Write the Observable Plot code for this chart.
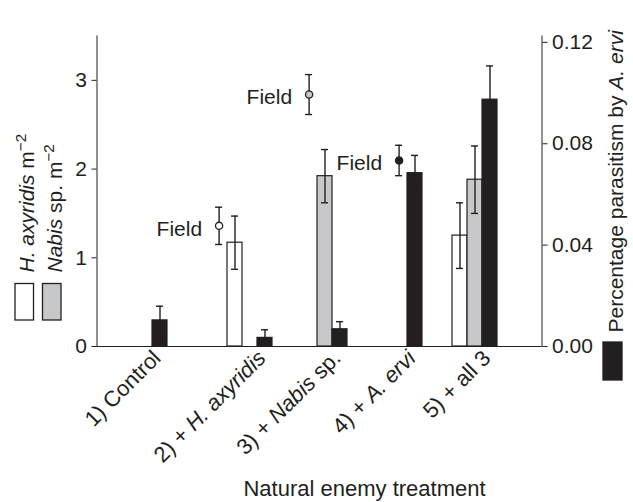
<!DOCTYPE html>
<html><head><meta charset="utf-8">
<script src="https://cdn.jsdelivr.net/npm/d3@7"></script>
<script src="https://cdn.jsdelivr.net/npm/@observablehq/plot@0.6"></script>
<style>body{margin:0;background:#fff} svg{display:block}</style>
</head><body><div id="chart"></div>
<script>
// ---------- data ----------
const treatments = ["1) Control", "2) + H. axyridis", "3) + Nabis sp.", "4) + A. ervi", "5) + all 3"];
const treatmentItalic = ["", "H. axyridis", "Nabis", "A. ervi", ""];
// H. axyridis m^-2 (white bars): mean, SE
const hMean = [null, 1.17, null, null, 1.25];
const hSE   = [null, 0.30, null, null, 0.37];
// Nabis sp. m^-2 (grey bars)
const nMean = [null, null, 1.92, null, 1.88];
const nSE   = [null, null, 0.30, null, 0.38];
// Percentage parasitism by A. ervi (black bars, right axis)
const pMean = [0.0103, 0.0034, 0.0068, 0.0684, 0.0974];
const pSE   = [0.0056, 0.0032, 0.0030, 0.0070, 0.0133];
// Field observations
const fieldTreatment = ["2) + H. axyridis", "3) + Nabis sp.", "4) + A. ervi"];
const fieldSeries = ["H", "N", "P"];
const fieldMean = [1.36, 2.84, 0.0734];
const fieldSE   = [0.21, 0.225, 0.006];
const fieldLabel = "Field";
// axes
const leftTicks = [0, 1, 2, 3];
const rightTicks = [0, 0.04, 0.08, 0.12];
const seriesKeys = ["H", "N", "P"];
const leftLabels = ["H. axyridis m\u22122", "Nabis sp. m\u22122"];
const leftLabelItalic = ["H. axyridis", "Nabis"];
const rightLabel = "Percentage parasitism by A. ervi";
const rightLabelItalic = "A. ervi";
const xTitle = "Natural enemy treatment";

// ---------- layout helpers ----------
const INK = "#231f20";
const GREY = "#c7c8ca";
const k = 3.428 / 0.12;           // right-axis units -> left-axis units
const slotW = 15.9;

// slots: three bar positions per treatment, with spacing slots between groups
const slots = [];
treatments.forEach((t, i) => {
  const gap = i === 0 ? 0 : (i === 1 ? 4 : 2);
  for (let j = 0; j < gap; j++) slots.push(`gap${i}-${j}`);
  for (const s of seriesKeys) slots.push(`${t}|${s}`);
});

const rows = [];
treatments.forEach((t, i) => {
  if (hMean[i] != null) rows.push({slot: `${t}|H`, series: "H", value: hMean[i], se: hSE[i]});
  if (nMean[i] != null) rows.push({slot: `${t}|N`, series: "N", value: nMean[i], se: nSE[i]});
  rows.push({slot: `${t}|P`, series: "P", value: pMean[i] * k, se: pSE[i] * k});
});
const field = fieldTreatment.map((t, i) => {
  const f = fieldSeries[i] === "P" ? k : 1;
  return {slot: `${t}|${fieldSeries[i]}`, series: fieldSeries[i], value: fieldMean[i] * f, se: fieldSE[i] * f};
});

const plot = Plot.plot({
  width: 633,
  height: 502,
  marginLeft: 96.5,
  marginRight: 91.5,
  marginTop: 35.5,
  marginBottom: 156,
  style: {fontFamily: "'Liberation Sans', Arial, sans-serif", fontSize: "21px", color: INK, background: "#fff"},
  x: {type: "band", domain: slots, range: [111, 508.5], padding: 0, axis: null},
  y: {domain: [0, 3.5]},
  color: {domain: seriesKeys, range: ["#ffffff", GREY, INK]},
  marks: [
    Plot.frame({anchor: "left", stroke: INK}),
    Plot.frame({anchor: "right", stroke: INK}),
    Plot.axisY({anchor: "left", label: null, ticks: leftTicks, tickFormat: d => String(d), tickSize: 5, tickPadding: 5, stroke: INK, fill: INK}),
    Plot.axisY({anchor: "right", label: null, ticks: rightTicks.map(t => t * k), tickFormat: d => (d / k).toFixed(2), tickSize: 5, tickPadding: 5, stroke: INK, fill: INK}),
    Plot.barY(rows, {x: "slot", y1: 0, y2: "value", fill: "series", stroke: INK, strokeWidth: 1.2}),
    Plot.ruleX(rows, {x: "slot", y1: d => d.value - d.se, y2: d => d.value + d.se, stroke: INK, strokeWidth: 1.4}),
    Plot.tickY(rows, {x: "slot", y: d => d.value + d.se, insetLeft: 4, insetRight: 4, stroke: INK, strokeWidth: 1.4}),
    Plot.tickY(rows, {x: "slot", y: d => d.value - d.se, insetLeft: 4, insetRight: 4, stroke: INK, strokeWidth: 1.4}),
    Plot.ruleY([0], {stroke: INK, strokeWidth: 1.2}),
    // field observations
    Plot.ruleX(field, {x: "slot", y1: d => d.value - d.se, y2: d => d.value + d.se, dx: -slotW, stroke: INK, strokeWidth: 1.4}),
    Plot.tickY(field, {x: "slot", y: d => d.value + d.se, dx: -slotW, insetLeft: 4, insetRight: 4, stroke: INK, strokeWidth: 1.4}),
    Plot.tickY(field, {x: "slot", y: d => d.value - d.se, dx: -slotW, insetLeft: 4, insetRight: 4, stroke: INK, strokeWidth: 1.4}),
    Plot.dot(field, {x: "slot", y: "value", dx: -slotW, r: 3.6, fill: "series", stroke: INK, strokeWidth: 1.3}),
    Plot.text(field, {x: "slot", y: "value", text: () => fieldLabel, dx: -slotW - 17, dy: 3, textAnchor: "end", fill: INK, fontSize: 21}),
    // treatment labels
    Plot.text(treatments, {x: t => `${t}|P`, y: () => 0, text: d => d, rotate: -45, textAnchor: "end", lineAnchor: "bottom", dx: 2, dy: 13, fill: INK, fontSize: 22}),
    // axis titles
    Plot.text([xTitle], {frameAnchor: "bottom", text: d => d, dx: 45, dy: 149, lineAnchor: "bottom", fill: INK, fontSize: 22}),
    Plot.text([leftLabels[0]], {frameAnchor: "bottom-left", text: d => d, rotate: -90, textAnchor: "start", lineAnchor: "bottom", dx: -63.5, dy: -74, fill: INK, fontSize: 21}),
    Plot.text([leftLabels[1]], {frameAnchor: "bottom-left", text: d => d, rotate: -90, textAnchor: "start", lineAnchor: "bottom", dx: -35.5, dy: -74, fill: INK, fontSize: 21}),
    Plot.text([rightLabel], {frameAnchor: "bottom-right", text: d => d, rotate: -90, textAnchor: "start", lineAnchor: "bottom", dx: 81, dy: -14, fill: INK, fontSize: 21})
  ]
});

document.getElementById("chart").appendChild(plot);

// ---------- rich text (italics / superscripts) ----------
const NS = "http://www.w3.org/2000/svg";
function richify(el, italic) {
  const str = el.textContent;
  const segs = [];
  let rest = str;
  let sup = null;
  if (rest.endsWith("\u22122")) { sup = "\u22122"; rest = rest.slice(0, -2); }
  if (italic && rest.includes(italic)) {
    const idx = rest.indexOf(italic);
    if (idx > 0) segs.push({t: rest.slice(0, idx)});
    segs.push({t: italic, italic: true});
    if (idx + italic.length < rest.length) segs.push({t: rest.slice(idx + italic.length)});
  } else segs.push({t: rest});
  if (sup) segs.push({t: sup, sup: true});
  while (el.firstChild) el.removeChild(el.firstChild);
  for (const s of segs) {
    const ts = document.createElementNS(NS, "tspan");
    ts.textContent = s.t;
    if (s.italic) ts.setAttribute("font-style", "italic");
    if (s.sup) { ts.setAttribute("font-size", "0.72em"); ts.setAttribute("dy", "-0.5em"); }
    el.appendChild(ts);
  }
}
const italicMap = new Map();
treatments.forEach((t, i) => italicMap.set(t, treatmentItalic[i]));
leftLabels.forEach((t, i) => italicMap.set(t, leftLabelItalic[i]));
italicMap.set(rightLabel, rightLabelItalic);
plot.querySelectorAll("text").forEach(el => {
  const s = el.textContent;
  if (italicMap.has(s)) richify(el, italicMap.get(s));
});

// legend swatches
const svg = d3.select(plot);
const sw = [
  {x: 15, y: 283.5, w: 18.5, h: 36.5, fill: "#ffffff"},
  {x: 42.5, y: 283.5, w: 18.5, h: 36.5, fill: GREY},
  {x: 603, y: 342, w: 19, h: 38, fill: INK}
];
svg.append("g").attr("aria-label", "legend swatches")
  .selectAll("rect").data(sw).join("rect")
  .attr("x", d => d.x).attr("y", d => d.y).attr("width", d => d.w).attr("height", d => d.h)
  .attr("fill", d => d.fill).attr("stroke", INK).attr("stroke-width", 1.3);
</script>
</body></html>
